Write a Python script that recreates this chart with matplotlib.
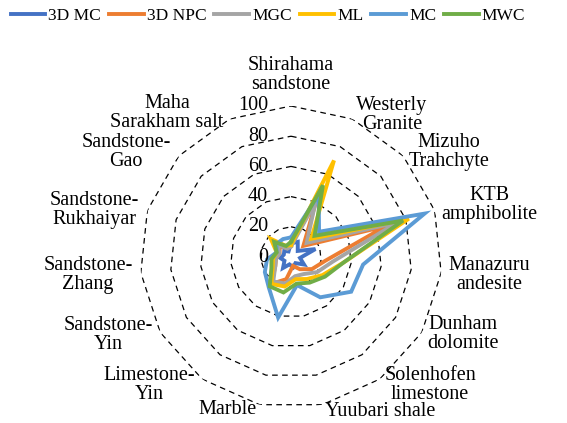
import numpy as np
import matplotlib
matplotlib.use("Agg")
from matplotlib import pyplot as plt

plt.rcParams["font.family"] = ["Liberation Serif", "DejaVu Serif"]

# rock types, clockwise from the top
categories = ["Shirahama\nsandstone", "Westerly\nGranite", "Mizuho\nTrahchyte",
              "KTB\namphibolite", "Manazuru\nandesite", "Dunham\ndolomite",
              "Solenhofen\nlimestone", "Yuubari shale", "Marble",
              "Limestone-\nYin", "Sandstone-\nYin", "Sandstone-\nZhang",
              "Sandstone-\nRukhaiyar", "Sandstone-\nGao", "Maha\nSarakham salt"]

# one list per criterion
mc3d  = [9, 11, 6, 17, 6, 10, 5, 7, 5, 9, 5, 7, 5, 6, 4]
npc3d = [8, 42, 11, 66, 23, 16, 10, 6, 15, 22, 12, 10, 8, 10, 7]
mgc   = [7, 40, 14, 74, 28, 20, 14, 13, 18, 20, 12, 10, 8, 12, 6]
ml    = [8, 70, 18, 82, 35, 24, 18, 15, 20, 22, 14, 12, 10, 18, 8]
mc    = [13, 45, 25, 93, 48, 46, 33, 19, 41, 25, 20, 16, 10, 13, 13]
mwc   = [10, 52, 21, 78, 35, 26, 21, 18, 24, 24, 15, 13, 10, 15, 8]

series = [("3D MC", mc3d), ("3D NPC", npc3d), ("MGC", mgc),
          ("ML", ml), ("MC", mc), ("MWC", mwc)]
colors = ["#4472C4", "#ED7D31", "#A5A5A5", "#FFC000", "#5B9BD5", "#70AD47"]

ticks = [0, 20, 40, 60, 80, 100]

# where each category name sits, pixels from the centre (right, down)
label_offsets = [(0, -182), (101, -142), (158, -105), (198, -52), (198, 18),
                 (172, 77), (139, 128), (89, 154), (-63, 153), (-142, 128),
                 (-183, 78), (-203, 18), (-197, -47), (-165, -105), (-124, -144)]

n = len(categories)
angles = np.arange(n) * 2 * np.pi / n
closed = np.append(angles, angles[0])

fig = plt.figure(figsize=(5.67, 4.23), dpi=100)
size = 302
ax = fig.add_axes([(291 - size / 2) / 567, (423 - 257 - size / 2) / 423,
                   size / 567, size / 423], projection="polar")
ax.set_theta_zero_location("N")
ax.set_theta_direction(-1)
ax.set_ylim(0, 100)
ax.grid(False)
ax.spines["polar"].set_visible(False)
ax.set_xticks([])
ax.set_yticks([])
ax.patch.set_visible(False)

# dashed polygon rings
for t in ticks[1:]:
    ax.plot(closed, [t] * (n + 1), color="black", lw=0.9,
            linestyle=(0, (4.5, 3.5)), zorder=1)

for (name, vals), c in zip(series, colors):
    ax.plot(closed, vals + vals[:1], color=c, lw=2.8, label=name,
            solid_joinstyle="miter", zorder=3)

# radial value labels just left of the vertical axis
for t in ticks:
    ax.annotate(str(t), xy=(0, t), xytext=(-23, 0), textcoords="offset pixels",
                ha="right", va="center", fontsize=14.5)

for name, (dx, dy) in zip(categories, label_offsets):
    ax.text(0.5 + dx / size, 0.5 - dy / size, name, transform=ax.transAxes,
            ha="center", va="center", fontsize=14.5, linespacing=1.0)

fig.legend(loc="center", bbox_to_anchor=(268 / 567, 1 - 16 / 423), ncol=6,
           frameon=False, fontsize=12.5, handlelength=2.0, handletextpad=0.17,
           columnspacing=0.46, borderaxespad=0, borderpad=0)

fig.savefig("out.png", dpi=100)
